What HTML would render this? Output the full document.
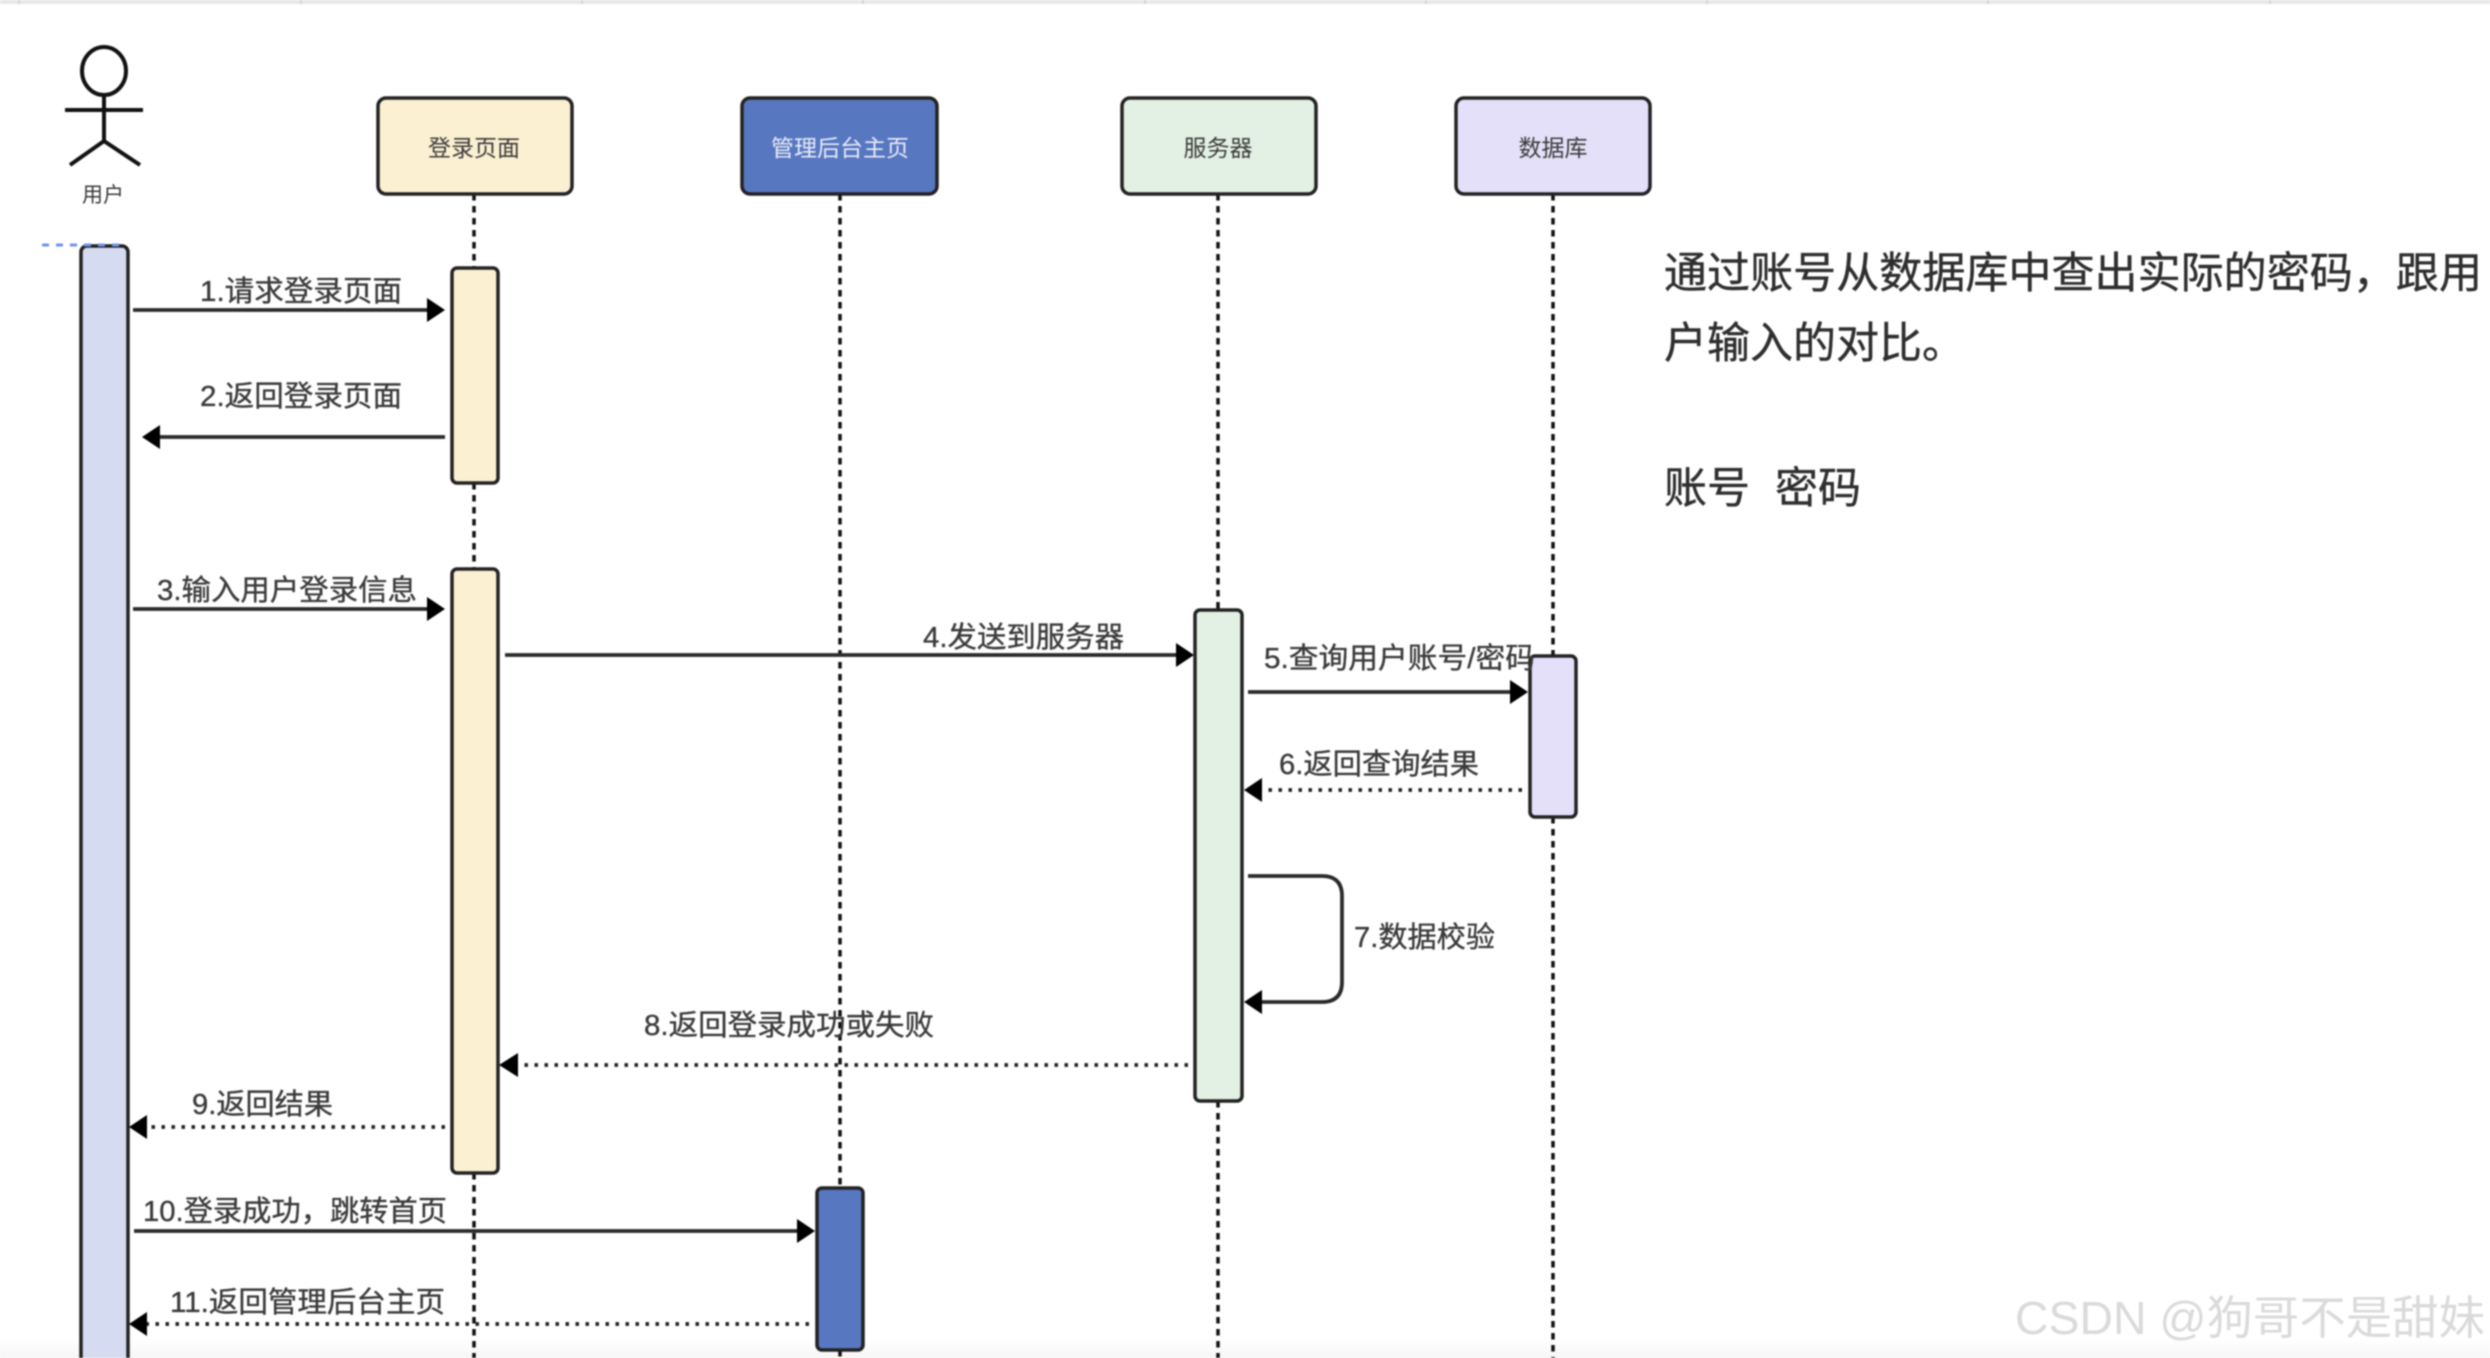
<!DOCTYPE html>
<html>
<head>
<meta charset="utf-8">
<style>
html,body{margin:0;padding:0;background:#fff;width:2490px;height:1358px;overflow:hidden}
svg{display:block;filter:blur(0.8px)}
text{font-family:"Liberation Sans","Noto Sans CJK SC",sans-serif}
.m{font-size:29px;fill:#3a3a3a;stroke:#3a3a3a;stroke-width:.35}
.n{font-size:23px;fill:#3a3a3a;text-anchor:middle}
.t{font-size:43px;fill:#2e2e2e;stroke:#2e2e2e;stroke-width:.4}
.box{stroke:#222;stroke-width:3.5}
.life{stroke:#111;stroke-width:3.5;stroke-dasharray:6.5 5.5;fill:none}
.sol{stroke:#2a2a2a;stroke-width:3.8;fill:none}
.dot{stroke:#222;stroke-width:3.8;stroke-dasharray:3.5 6.5;fill:none}
</style>
</head>
<body>
<svg width="2490" height="1358" viewBox="0 0 2490 1358" xmlns="http://www.w3.org/2000/svg">
<defs>
<linearGradient id="g" x1="0" y1="0" x2="0" y2="1"><stop offset="0" stop-color="#fff"/><stop offset="1" stop-color="#f6f6f6"/></linearGradient>
</defs>
<rect width="2490" height="1358" fill="#fff"/>
<rect x="0" y="1338" width="2490" height="20" fill="url(#g)"/>
<rect x="0" y="0" width="2490" height="4" fill="#e8e8e8"/>
<g stroke="#d0d0d0" stroke-width="1.5">
<line x1="19" y1="0" x2="19" y2="4"/><line x1="301" y1="0" x2="301" y2="4"/><line x1="582" y1="0" x2="582" y2="4"/><line x1="863" y1="0" x2="863" y2="4"/><line x1="1145" y1="0" x2="1145" y2="4"/><line x1="1426" y1="0" x2="1426" y2="4"/><line x1="1707" y1="0" x2="1707" y2="4"/><line x1="1988" y1="0" x2="1988" y2="4"/><line x1="2270" y1="0" x2="2270" y2="4"/>
</g>

<!-- lifelines -->
<path class="life" d="M474 194V268M474 483V569M474 1173V1358"/>
<path class="life" d="M840 194V1188M840 1350V1358"/>
<path class="life" d="M1218 194V610M1218 1101V1358"/>
<path class="life" d="M1553 194V656M1553 817V1358"/>

<!-- actor -->
<g fill="none" stroke="#111" stroke-width="4">
<ellipse cx="104" cy="71" rx="22" ry="24" fill="#fff"/>
<line x1="65" y1="110" x2="143" y2="110"/>
<line x1="104" y1="95" x2="104" y2="141"/>
<path d="M70 165L104 141L140 165"/>
</g>
<text class="n" x="103" y="202" style="font-size:21px">用户</text>

<!-- head boxes -->
<rect class="box" x="378" y="98" width="194" height="96" rx="8" fill="#fcf0d3"/>
<rect class="box" x="742" y="98" width="195" height="96" rx="8" fill="#5877c1"/>
<rect class="box" x="1122" y="98" width="194" height="96" rx="8" fill="#e2f1e4"/>
<rect class="box" x="1456" y="98" width="194" height="96" rx="8" fill="#e5e0f9"/>
<text class="n" x="474" y="156">登录页面</text>
<text class="n" x="840" y="156" style="fill:#e8ecf8">管理后台主页</text>
<text class="n" x="1218" y="156">服务器</text>
<text class="n" x="1553" y="156">数据库</text>

<!-- activations -->
<rect class="box" x="81" y="246" width="47" height="1130" rx="6" fill="#d5dbf0"/>
<rect class="box" x="452" y="268" width="46" height="215" rx="5" fill="#fcf0d3"/>
<rect class="box" x="452" y="569" width="46" height="604" rx="5" fill="#fcf0d3"/>
<rect class="box" x="1195" y="610" width="47" height="491" rx="5" fill="#e2f1e4"/>
<rect class="box" x="1530" y="656" width="46" height="161" rx="5" fill="#e5e0f9"/>
<rect class="box" x="817" y="1188" width="46" height="162" rx="5" fill="#5877c1"/>
<line x1="42" y1="245" x2="123" y2="245" stroke="#6e93f5" stroke-width="3" stroke-dasharray="7 7"/>

<!-- connectors -->
<g>
<path class="sol" d="M133 310H430"/><path d="M445 310L427 298V322Z" fill="#000"/>
<path class="sol" d="M445 437H158"/><path d="M142 437L160 425V449Z" fill="#000"/>
<path class="sol" d="M133 609H430"/><path d="M445 609L427 597V621Z" fill="#000"/>
<path class="sol" d="M505 655H1178"/><path d="M1194 655L1176 643V667Z" fill="#000"/>
<path class="sol" d="M1248 692H1512"/><path d="M1528 692L1510 680V704Z" fill="#000"/>
<path class="dot" d="M1522 790H1260"/><path d="M1244 790L1262 778V802Z" fill="#000"/>
<path class="sol" d="M1248 876H1322Q1342 876 1342 896V982Q1342 1002 1322 1002H1260"/><path d="M1244 1002L1262 990V1014Z" fill="#000"/>
<path class="dot" d="M1188 1065H516"/><path d="M499 1065L518 1053V1077Z" fill="#000"/>
<path class="dot" d="M445 1127H146"/><path d="M129 1127L147 1115V1139Z" fill="#000"/>
<path class="sol" d="M134 1231H800"/><path d="M815 1231L797 1219V1243Z" fill="#000"/>
<path class="dot" d="M809 1324H146"/><path d="M129 1324L147 1312V1336Z" fill="#000"/>
</g>

<!-- message labels -->
<text class="m" x="200" y="301" textLength="202" lengthAdjust="spacingAndGlyphs">1.请求登录页面</text>
<text class="m" x="200" y="406" textLength="202" lengthAdjust="spacingAndGlyphs">2.返回登录页面</text>
<text class="m" x="157" y="600" textLength="260" lengthAdjust="spacingAndGlyphs">3.输入用户登录信息</text>
<text class="m" x="923" y="647" textLength="201" lengthAdjust="spacingAndGlyphs">4.发送到服务器</text>
<text class="m" x="1264" y="668" textLength="271" lengthAdjust="spacingAndGlyphs">5.查询用户账号/密码</text>
<text class="m" x="1279" y="774" textLength="200" lengthAdjust="spacingAndGlyphs">6.返回查询结果</text>
<text class="m" x="1354" y="947" textLength="141" lengthAdjust="spacingAndGlyphs">7.数据校验</text>
<text class="m" x="644" y="1035" textLength="290" lengthAdjust="spacingAndGlyphs">8.返回登录成功或失败</text>
<text class="m" x="192" y="1114" textLength="141" lengthAdjust="spacingAndGlyphs">9.返回结果</text>
<text class="m" x="143" y="1221" textLength="304" lengthAdjust="spacingAndGlyphs">10.登录成功，跳转首页</text>
<text class="m" x="170" y="1312" textLength="275" lengthAdjust="spacingAndGlyphs">11.返回管理后台主页</text>

<!-- side note -->
<text class="t" x="1664" y="288" textLength="818" lengthAdjust="spacingAndGlyphs">通过账号从数据库中查出实际的密码，跟用</text>
<text class="t" x="1664" y="358">户输入的对比。</text>
<text class="t" x="1664" y="503">账号</text>
<text class="t" x="1775" y="503">密码</text>

<!-- watermark -->
<text x="2015" y="1334" font-size="46" fill="#dadada" textLength="470" lengthAdjust="spacingAndGlyphs">CSDN @狗哥不是甜妹</text>
</svg>
</body>
</html>
